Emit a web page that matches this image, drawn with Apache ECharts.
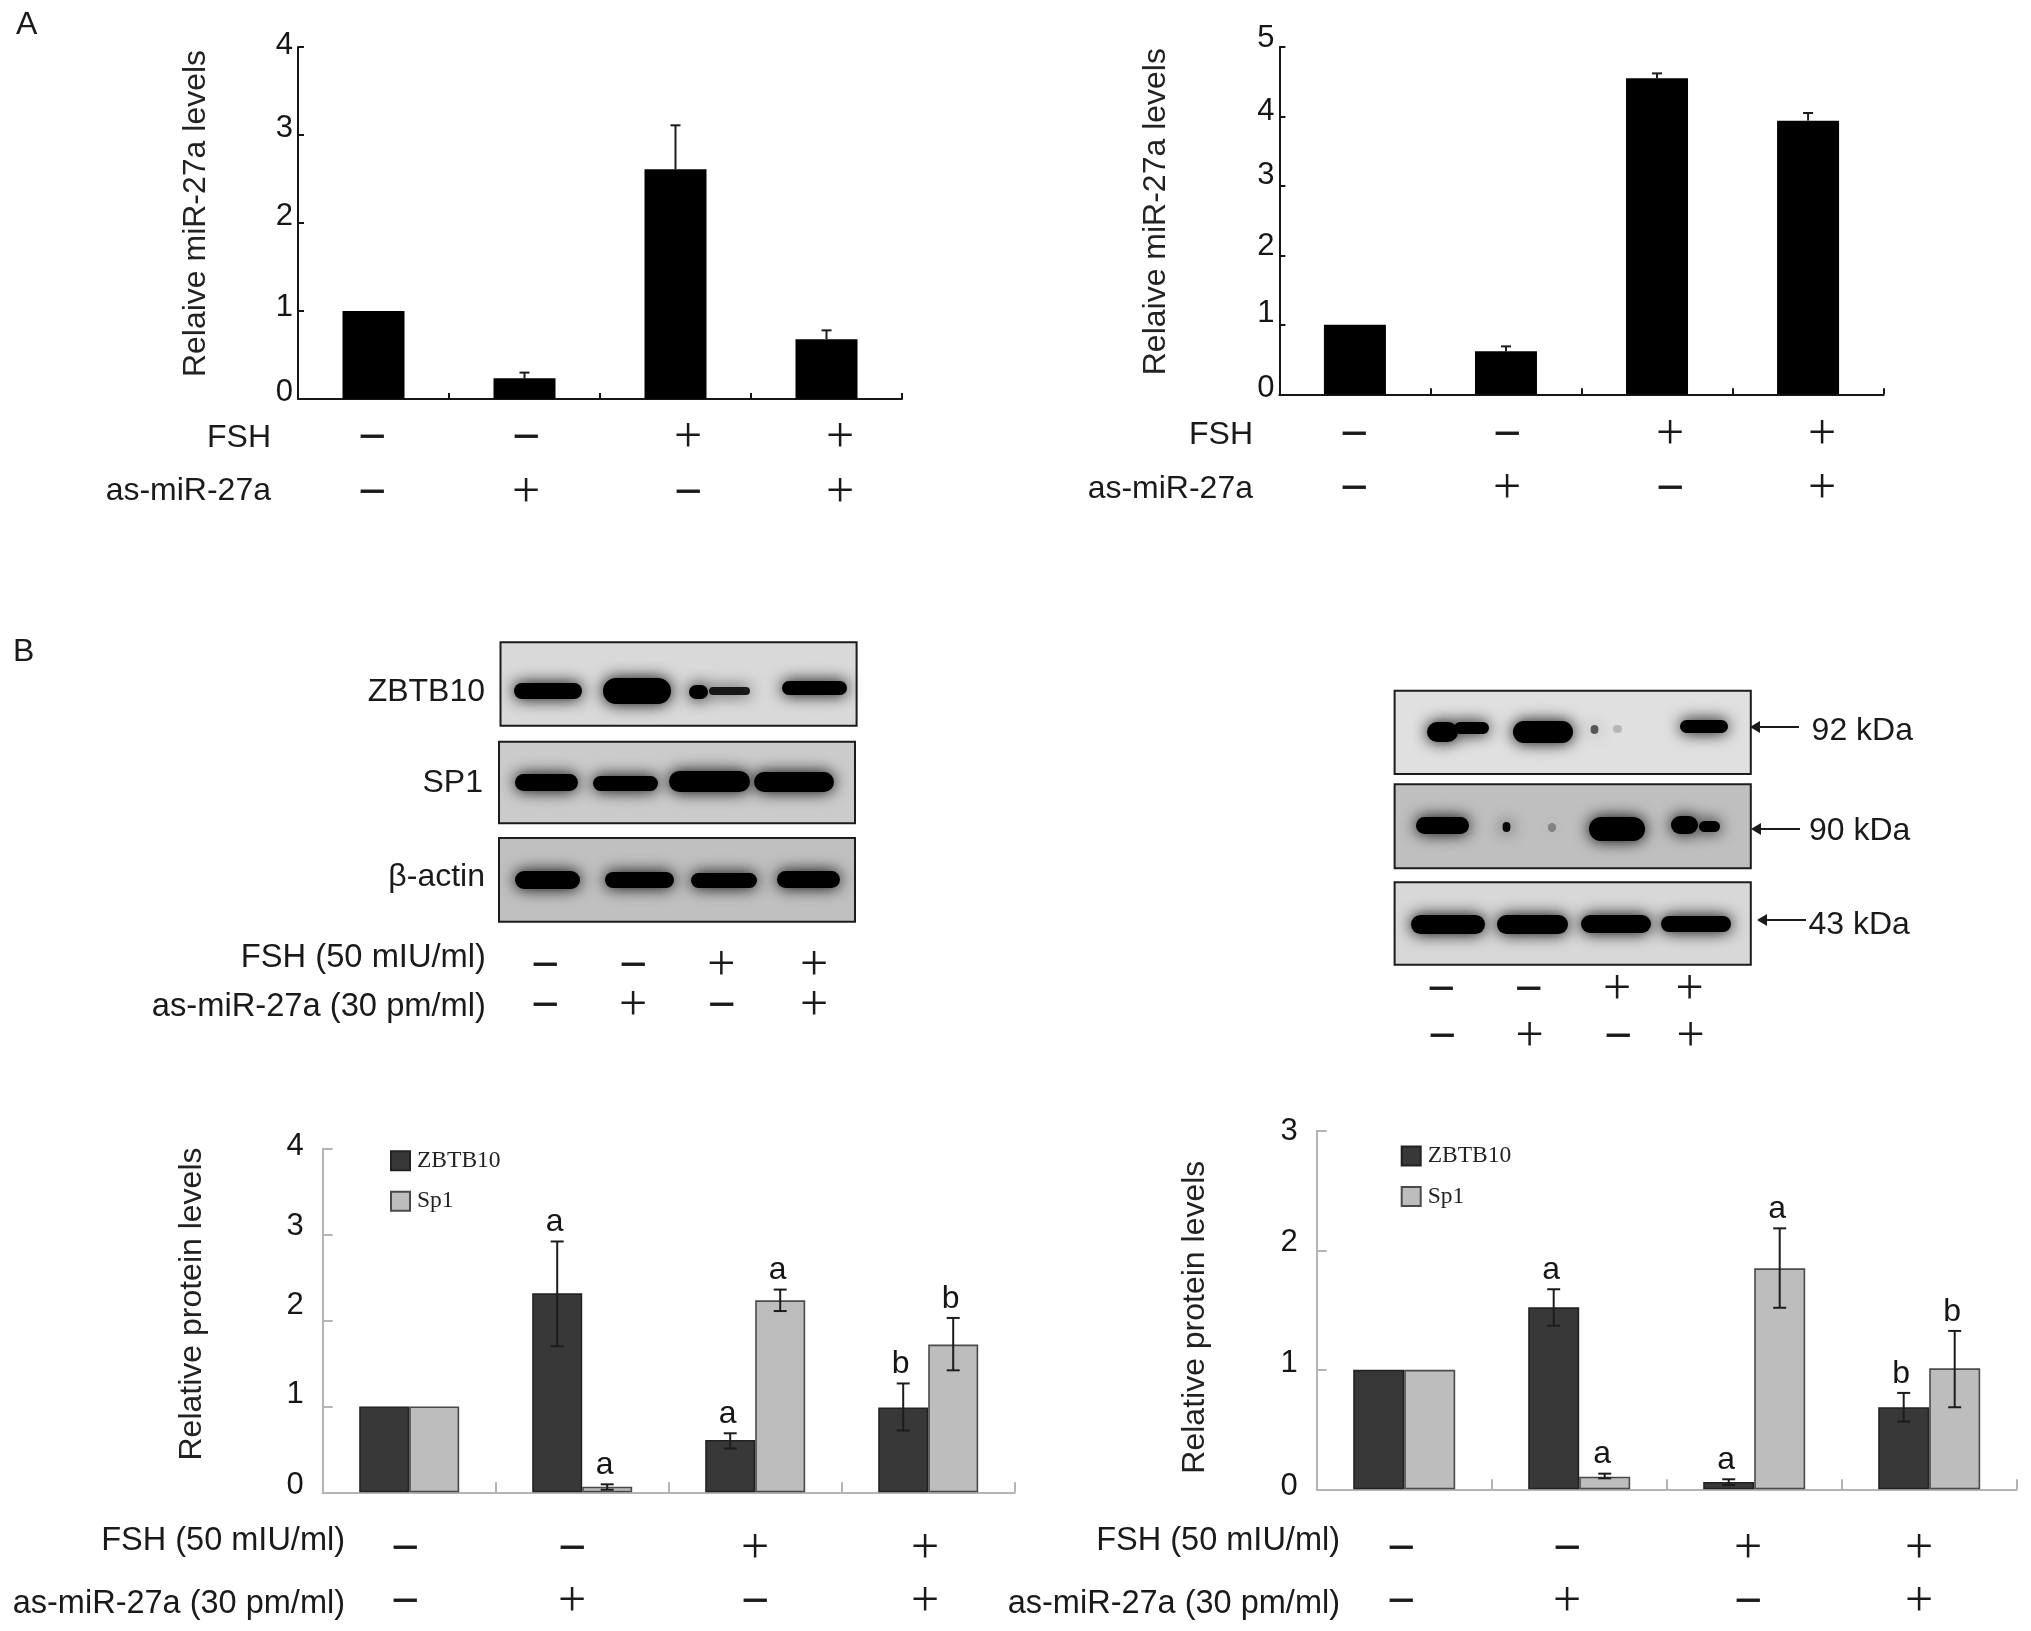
<!DOCTYPE html>
<html>
<head>
<meta charset="utf-8">
<style>html,body{margin:0;padding:0;background:#fff}#c{width:2031px;height:1631px}</style>
<script src="https://cdn.jsdelivr.net/npm/echarts@6/dist/echarts.min.js"></script>
</head>
<body>
<div id="c"></div>
<script>
// ---------- data ----------
const categories = ['G1', 'G2', 'G3', 'G4'];
const fshSigns = ['−', '−', '+', '+'];
const asSigns = ['−', '+', '−', '+'];

const a1Values = [1.0, 0.235, 2.61, 0.68];
const a1ErrTop = [null, 0.30, 3.11, 0.78];
const a2Values = [1.0, 0.62, 4.55, 3.94];
const a2ErrTop = [null, 0.69, 4.62, 4.05];

const b1Zbtb = [1.0, 2.316, 0.61, 0.988];
const b1ZbtbTop = [null, 2.92, 0.687, 1.267];
const b1ZbtbBot = [null, 1.70, 0.51, 0.72];
const b1ZbtbLetters = ['', 'a', 'a', 'b'];
const b1Sp = [1.0, 0.066, 2.235, 1.72];
const b1SpTop = [null, 0.093, 2.36, 2.03];
const b1SpBot = [null, 0.03, 2.11, 1.42];
const b1SpLetters = ['', 'a', 'a', 'b'];

const b2Zbtb = [1.0, 1.524, 0.061, 0.687];
const b2ZbtbTop = [null, 1.675, 0.084, 0.807];
const b2ZbtbBot = [null, 1.37, 0.036, 0.567];
const b2ZbtbLetters = ['', 'a', 'a', 'b'];
const b2Sp = [1.0, 0.106, 1.85, 1.013];
const b2SpTop = [null, 0.131, 2.185, 1.326];
const b2SpBot = [null, 0.092, 1.52, 0.687];
const b2SpLetters = ['', 'a', 'a', 'b'];

// ---------- style and layout ----------
const SANS = '"Liberation Sans", Arial, sans-serif';
const SERIF = '"Liberation Serif", "Times New Roman", serif';
const INK = '#161616';
const DARK = '#383838';
const LIGHT = '#bdbdbd';
const AXISGRAY = '#b4b4b4';

const grids = [
  {left: 298, top: 47, width: 604, height: 352},
  {left: 1279.4, top: 47, width: 604.2, height: 347.3},
  {left: 322.7, top: 1148.7, width: 692, height: 343.6},
  {left: 1316.7, top: 1131, width: 700, height: 358.3}
];
const yMax = [4, 5, 4, 3];
const yLabelLift = [[7, 4, 7, 6.5, 2], [6, 11, 9, 10, 5, 9], [7, 12, 15, 8, 2.7], [3, 6, 8, 0]];
const yLabelMargin = [5, 5, 19, 19];
const yNameGap = [102, 123, 131, 121.5];
const yNameShift = [9.5, 9, 16.5, -7];
const yNames = ['Relaive miR-27a levels', 'Relaive miR-27a levels', 'Relative protein levels', 'Relative protein levels'];
const axisColors = [INK, INK, AXISGRAY, AXISGRAY];
const axisWidth = [2, 2, 2, 2];
const tickLen = [6, 6, 10, 10];

function errorRender(offset, capHalf, twoSided, letters) {
  return function (params, api) {
    const cat = api.value(0);
    const tv = api.value(1);
    if (isNaN(tv)) return;
    const hi = api.coord([cat, tv]);
    const lo = api.coord([cat, api.value(2)]);
    const x = hi[0] + offset;
    const st = {stroke: '#1c1c1c', lineWidth: 2};
    const ch = [
      {type: 'line', shape: {x1: x, y1: hi[1], x2: x, y2: lo[1]}, style: st},
      {type: 'line', shape: {x1: x - capHalf, y1: hi[1], x2: x + capHalf, y2: hi[1]}, style: st}
    ];
    if (twoSided) ch.push({type: 'line', shape: {x1: x - capHalf, y1: lo[1], x2: x + capHalf, y2: lo[1]}, style: st});
    const t = letters && letters[params.dataIndex];
    if (t) ch.push({type: 'text', style: {text: t, x: x - 2.5, y: hi[1] - 19, font: '32px ' + SANS, fill: INK, align: 'center', verticalAlign: 'middle'}});
    return {type: 'group', children: ch};
  };
}
function rows(top, bot) { return categories.map((c, i) => [i, top[i], bot[i]]); }
function errSeries(g, offset, capHalf, two, top, bot, letters) {
  return {type: 'custom', name: 'err' + g + offset, xAxisIndex: g, yAxisIndex: g, clip: false, z: 5,
    data: rows(top, bot), encode: {x: 0, y: 1}, renderItem: errorRender(offset, capHalf, two, letters)};
}
function blackBar(g, vals) {
  return {type: 'bar', name: 'level' + g, xAxisIndex: g, yAxisIndex: g, data: vals, barWidth: 62, itemStyle: {color: '#000'}};
}
function groupBar(g, name, vals, color, border, w) {
  return {type: 'bar', name: name, xAxisIndex: g, yAxisIndex: g, data: vals, barWidth: w, barGap: 0,
    itemStyle: {color: color, borderColor: border, borderWidth: 1.6}};
}

const series = [
  blackBar(0, a1Values), errSeries(0, 0, 5, false, a1ErrTop, a1Values, null),
  blackBar(1, a2Values), errSeries(1, 0, 5, false, a2ErrTop, a2Values, null),
  groupBar(2, 'ZBTB10', b1Zbtb, DARK, '#222', 50), groupBar(2, 'Sp1', b1Sp, LIGHT, '#4a4a4a', 50),
  errSeries(2, -25, 6.5, true, b1ZbtbTop, b1ZbtbBot, b1ZbtbLetters), errSeries(2, 25, 6.5, true, b1SpTop, b1SpBot, b1SpLetters),
  groupBar(3, 'ZBTB10', b2Zbtb, DARK, '#222', 51), groupBar(3, 'Sp1', b2Sp, LIGHT, '#4a4a4a', 51),
  errSeries(3, -25.5, 6.5, true, b2ZbtbTop, b2ZbtbBot, b2ZbtbLetters), errSeries(3, 25.5, 6.5, true, b2SpTop, b2SpBot, b2SpLetters)
];

const xAxes = grids.map((g, i) => ({
  type: 'category', gridIndex: i, data: categories,
  axisLine: {lineStyle: {color: axisColors[i], width: axisWidth[i]}},
  axisTick: {show: true, inside: true, length: tickLen[i], lineStyle: {color: axisColors[i], width: 2}},
  axisLabel: {show: false}
}));
const yAxes = grids.map((g, i) => {
  const rich = {};
  yLabelLift[i].forEach((d, v) => { rich['o' + v] = {padding: [0, 0, 2 * d, 0], fontSize: 31, fontFamily: SANS, color: INK}; });
  const shift = yNameShift[i];
  return {
    type: 'value', gridIndex: i, min: 0, max: yMax[i], interval: 1, splitLine: {show: false},
    axisLine: {show: true, lineStyle: {color: axisColors[i], width: axisWidth[i]}},
    axisTick: {show: true, inside: true, length: tickLen[i], lineStyle: {color: axisColors[i], width: 2}},
    axisLabel: {margin: yLabelMargin[i], formatter: v => `{o${v}|${v}}`, rich},
    name: yNames[i], nameLocation: 'middle', nameRotate: 90, nameGap: yNameGap[i],
    nameTextStyle: {fontFamily: SANS, fontSize: 32, color: '#222', verticalAlign: 'middle',
      padding: shift > 0 ? [0, 0, 0, 2 * shift] : [0, -2 * shift, 0, 0]}
  };
});

// ---------- annotations ----------
const graphic = [];
function label(text, x, y, size, align, family) {
  graphic.push({type: 'text', silent: true, z: 20, style: {text, x, y, font: size + 'px ' + (family || SANS), fill: '#1a1a1a', align: align || 'right', verticalAlign: 'middle'}});
}
function signs(arr, xs, y) {
  arr.forEach((s, i) => {
    if (s === '+') label('+', xs[i], y + 3, 50, 'center', SERIF);
    else label('−', xs[i], y + 3, 48, 'center', SANS);
  });
}
function panel(x0, x1, y0, y1, fill) {
  graphic.push({type: 'rect', silent: true, z: 10, shape: {x: x0, y: y0, width: x1 - x0, height: y1 - y0},
    style: {fill, stroke: '#1c1c1c', lineWidth: 2}});
}
function band(x0, x1, y0, y1, alpha) {
  const w = x1 - x0;
  const h = y1 - y0;
  const a = alpha === undefined ? 1 : alpha;
  const inset = Math.min(4, w * 0.2);
  const core = Math.max(h - 6, h * 0.5);
  const cy = (y0 + y1) / 2;
  graphic.push({type: 'rect', silent: true, z: 11, shape: {x: x0 + inset, y: cy - core / 2, width: w - 2 * inset, height: core, r: core / 2},
    style: {fill: `rgba(0,0,0,${a})`, shadowBlur: 16, shadowColor: `rgba(0,0,0,${a})`}});
}
function arrow(x0, x1, y) {
  graphic.push({type: 'line', silent: true, z: 20, shape: {x1: x0 + 6, y1: y, x2: x1, y2: y}, style: {stroke: '#1a1a1a', lineWidth: 2}});
  graphic.push({type: 'polygon', silent: true, z: 20, shape: {points: [[x0, y], [x0 + 10, y - 6], [x0 + 10, y + 6]]}, style: {fill: '#1a1a1a'}});
}

label('A', 16, 25, 32, 'left');
label('B', 13, 652, 32, 'left');

// A row labels
label('FSH', 271, 438, 32);
label('as-miR-27a', 271, 491, 32);
signs(fshSigns, [372, 526, 688, 840], 436);
signs(asSigns, [372, 526, 688, 840], 491);
label('FSH', 1253, 435, 32);
label('as-miR-27a', 1253, 489, 32);
signs(fshSigns, [1354, 1507, 1670, 1822], 433);
signs(asSigns, [1354, 1507, 1670, 1822], 487);

// left blot
panel(500.5, 856.6, 642.3, 725.7, '#d9d9d9');
band(510, 586, 680, 702); band(599, 675, 675, 707); band(685, 712, 682, 702); band(705, 754, 684, 698, 0.85); band(778, 851, 678, 698);
panel(499, 855, 741.7, 823.3, '#cbcbcb');
band(511, 582, 771, 794); band(589, 662, 773, 794); band(665, 754, 768, 795); band(750, 838, 769, 795);
panel(499, 855, 838, 921.7, '#c0c0c0');
band(511, 584, 868, 892); band(601, 678, 869, 891); band(687, 761, 870, 891); band(773, 844, 868, 891);
label('ZBTB10', 485, 692, 32);
label('SP1', 483, 783, 32);
label('β-actin', 485, 877, 32);
label('FSH (50 mIU/ml)', 486, 958, 32.7);
label('as-miR-27a (30 pm/ml)', 486, 1007, 32.7);
signs(fshSigns, [545, 633, 721.4, 814], 964);
signs(asSigns, [545, 633, 721.4, 814], 1004);

// right blot
panel(1394.6, 1750.8, 690.7, 774, '#e0e0e0');
band(1423, 1462, 719, 745); band(1450, 1493, 719, 737); band(1509, 1577, 718, 746);
band(1588, 1601, 722, 737, 0.6); band(1610, 1625, 722, 736, 0.18); band(1676, 1732, 717, 736);
panel(1394.6, 1750.8, 784.3, 868.3, '#bfbfbf');
band(1412, 1473, 814, 837); band(1500, 1513, 819, 835, 0.95); band(1545, 1559, 820, 835, 0.3);
band(1585, 1649, 814, 844); band(1667, 1702, 813, 837); band(1695, 1724, 818, 835);
panel(1394.6, 1750.8, 882.3, 964.7, '#d8d8d8');
band(1407, 1489, 912, 937); band(1493, 1572, 912, 937); band(1577, 1655, 912, 936); band(1657, 1735, 913, 935);
arrow(1750, 1799, 727);
arrow(1751, 1800, 829);
arrow(1757, 1806, 920);
label('92 kDa', 1811.6, 731, 32, 'left');
label('90 kDa', 1809, 831, 32, 'left');
label('43 kDa', 1808.5, 925, 32, 'left');
signs(fshSigns, [1441, 1528.6, 1617, 1689.5], 988);
signs(asSigns, [1442, 1529.5, 1618, 1690.5], 1035);

// bottom row labels
label('FSH (50 mIU/ml)', 345, 1541, 32.5);
label('as-miR-27a (30 pm/ml)', 345, 1604, 32.5);
signs(fshSigns, [405, 572, 755, 925], 1547);
signs(asSigns, [405, 572, 755, 925], 1600);
label('FSH (50 mIU/ml)', 1345 - 5, 1541, 32.5);
label('as-miR-27a (30 pm/ml)', 1345 - 5, 1604, 32.5);
signs(fshSigns, [1401, 1567, 1748, 1919], 1547);
signs(asSigns, [1401, 1567, 1748, 1919], 1600);

const legendBase = {orient: 'vertical', icon: 'rect', itemWidth: 19, itemHeight: 19, itemGap: 16.5, data: ['ZBTB10', 'Sp1'], selectedMode: false,
  textStyle: {fontFamily: SERIF, fontSize: 23.5, color: '#222', padding: [0, 0, 0, 2]}, padding: 0};

const chart = echarts.init(document.getElementById('c'), null, {renderer: 'canvas'});
chart.setOption({
  animation: false,
  backgroundColor: '#fff',
  grid: grids.map(g => Object.assign({containLabel: false}, g)),
  xAxis: xAxes,
  yAxis: yAxes,
  legend: [Object.assign({left: 390, top: 1148.7}, legendBase), Object.assign({left: 1400.7, top: 1144}, legendBase)],
  series,
  graphic: {elements: graphic}
});
</script>
</body>
</html>
